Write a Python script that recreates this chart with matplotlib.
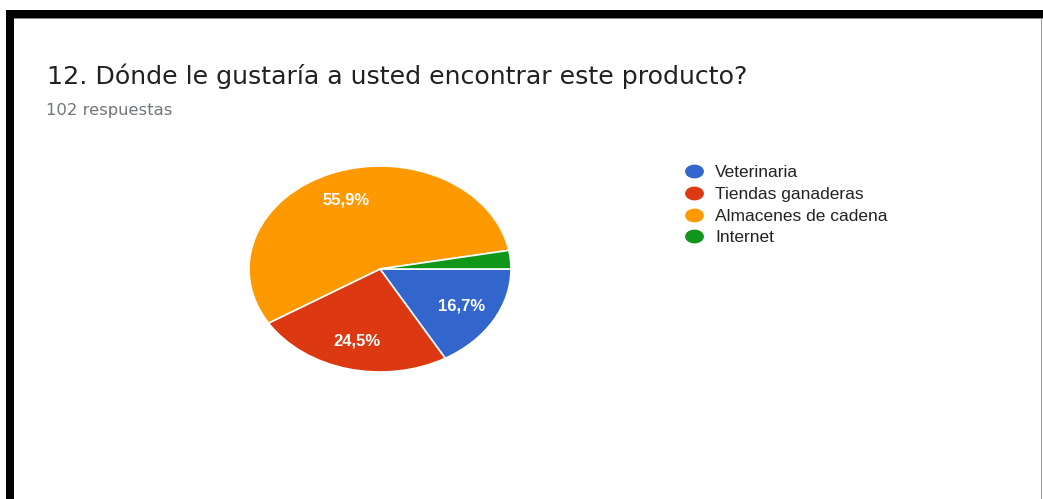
"""
Encuesta, pregunta 12: canal preferido para encontrar el producto.
Grafico de torta con leyenda a la derecha, guardado como out.png.
"""
import matplotlib
matplotlib.use("Agg")
import matplotlib.pyplot as plt
from matplotlib.lines import Line2D
from matplotlib.patches import Rectangle
from matplotlib.path import Path
from matplotlib.transforms import Affine2D

# Respuestas (porcentaje del total, 102 respuestas)
categorias = ["Veterinaria", "Tiendas ganaderas", "Almacenes de cadena", "Internet"]
porcentajes = [16.7, 24.5, 55.9, 2.9]
colores = ["#3366cc", "#dc3912", "#ff9900", "#109618"]

titulo = "12. Dónde le gustaría a usted encontrar este producto?"
subtitulo = "102 respuestas"

W, H = 1043, 499
fig = plt.figure(figsize=(W / 100, H / 100), dpi=100)
fig.patch.set_facecolor("white")


def px_box(x0, y0, w, h):
    # pixel box (top-left origin) -> figure fraction
    return [x0 / W, 1 - (y0 + h) / H, w / W, h / H]


# marco negro de la captura
for x0, y0, w, h, c in [(6, 10, W - 6, 8, "black"),
                        (6, 18, W - 6, 1.2, "#888888"),
                        (6, 10, 8, H - 10, "black"),
                        (1040.5, 18, 1.5, H - 18, "#999999")]:
    l, b, ww, hh = px_box(x0, y0, w, h)
    fig.add_artist(Rectangle((l, b), ww, hh, transform=fig.transFigure,
                             facecolor=c, edgecolor="none"))

fig.text(47 / W, 1 - 84 / H, titulo, fontsize=18.2, family="DejaVu Sans",
         color="#202124", ha="left", va="baseline")
fig.text(46 / W, 1 - 115 / H, subtitulo, fontsize=11.8, family="DejaVu Sans",
         color="#70757a", ha="left", va="baseline")

# torta (estirada horizontalmente)
cx, cy, rx, ry = 380, 269, 131, 103
ax = fig.add_axes(px_box(cx - rx, cy - ry, 2 * rx, 2 * ry))


def etiqueta(p):
    return f"{p:.1f}%".replace(".", ",") if p >= 5 else ""


wedges, _, autotexts = ax.pie(porcentajes, colors=colores, startangle=0,
                              counterclock=False, autopct=etiqueta,
                              pctdistance=0.72,
                              wedgeprops=dict(edgecolor="white", linewidth=1.2),
                              textprops=dict(color="white", fontsize=12,
                                             fontweight="bold",
                                             family="Liberation Sans"))
ax.set_aspect("auto")
ax.set_xlim(-1, 1)
ax.set_ylim(-1, 1)
ax.axis("off")

# leyenda con marcadores ovalados
ovalo = Path.unit_circle().transformed(Affine2D().scale(1.4, 1.0))
handles = [Line2D([], [], linestyle="none", marker=ovalo, markersize=12.5,
                  markerfacecolor=c, markeredgecolor=c) for c in colores]
fig.legend(handles, categorias, loc="upper left",
           bbox_to_anchor=(684 / W, 1 - 165 / H), frameon=False,
           prop=dict(family="Liberation Sans", size=12.5),
           labelcolor="#222222", handlelength=1.2, handletextpad=0.6,
           labelspacing=0.38, borderaxespad=0, borderpad=0)

fig.savefig("out.png", dpi=100)
